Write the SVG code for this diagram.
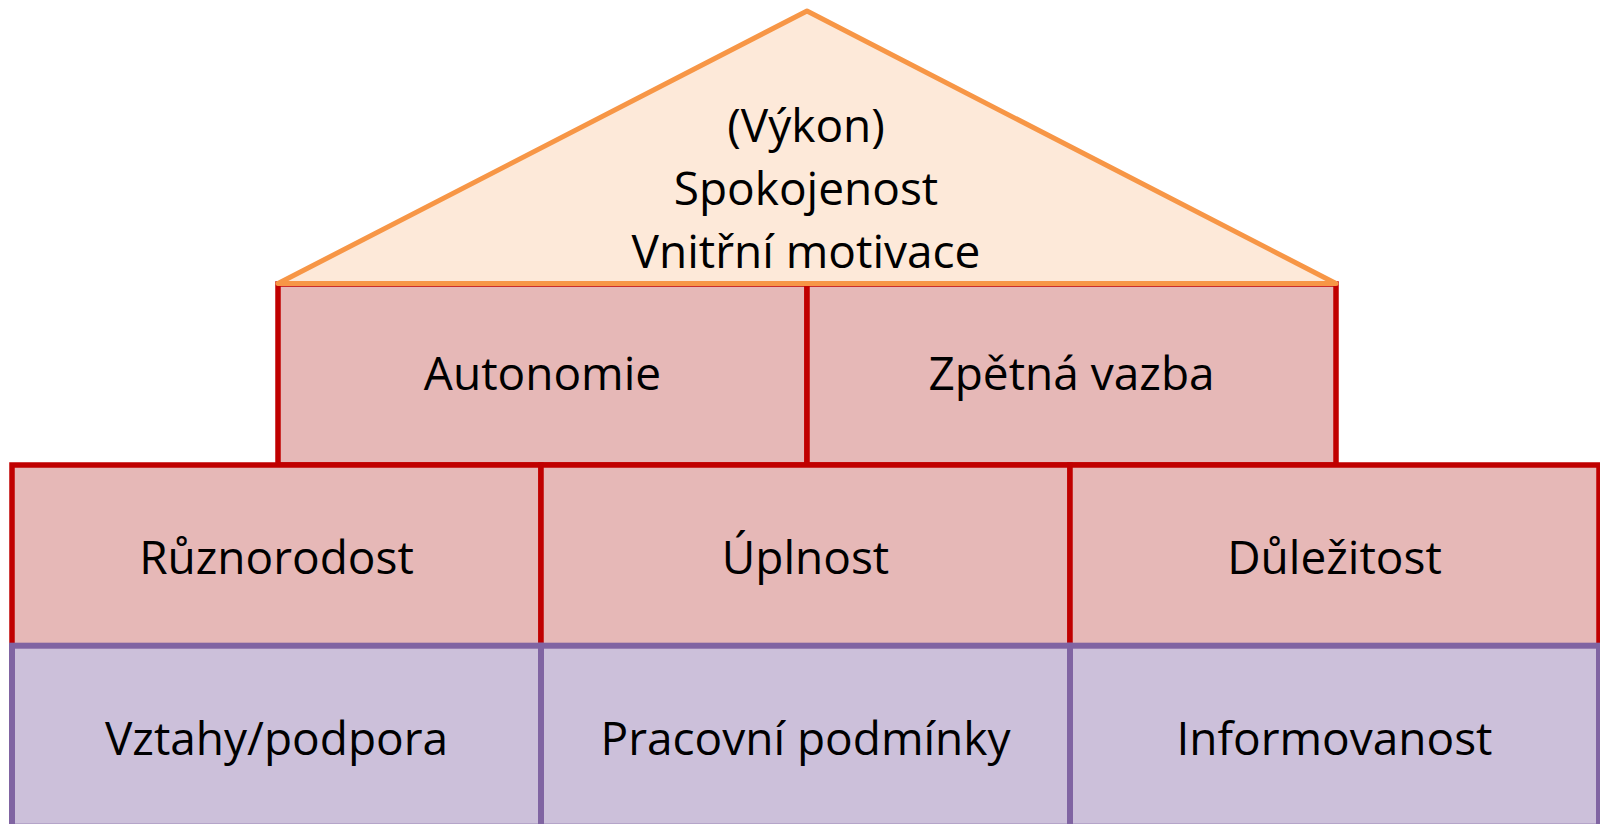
<svg xmlns="http://www.w3.org/2000/svg" width="1600" height="824" viewBox="0 0 1600 824">
<style>
.red{fill:#E6B8B7;stroke:#C00000;stroke-width:5.5}
.pur{fill:#CCC0DA;stroke:#8064A2;stroke-width:6}
.roof{fill:#FDE9D9;stroke:#F79646;stroke-width:5;stroke-linejoin:round}
text{font-family:"Open Sans","Noto Sans",sans-serif;font-size:46px;fill:#000;text-anchor:middle}
</style>
<rect width="1600" height="824" fill="#fff"/>
<g id="row1">
<g id="autonomie"><rect class="red" x="278" y="284" width="529" height="181"/><text x="542.5" y="390">Autonomie</text></g>
<g id="zpetna-vazba"><rect class="red" x="807" y="284" width="529" height="181"/><text x="1071.5" y="390">Zpětná vazba</text></g>
</g>
<g id="roof"><polygon class="roof" points="807,11 278,283.5 1336,283.5"/>
<text x="806" y="142">(Výkon)</text>
<text x="806" y="205">Spokojenost</text>
<text x="806" y="268">Vnitřní motivace</text>
</g>
<g id="row2">
<g id="ruznorodost"><rect class="red" x="12" y="465" width="529" height="181"/><text x="276.5" y="574">Různorodost</text></g>
<g id="uplnost"><rect class="red" x="541" y="465" width="529" height="181"/><text x="805.5" y="574">Úplnost</text></g>
<g id="dulezitost"><rect class="red" x="1070" y="465" width="529" height="181"/><text x="1334.5" y="574">Důležitost</text></g>
</g>
<g id="row3">
<g id="vztahy"><rect class="pur" x="12" y="645.7" width="529" height="181"/><text x="276.5" y="755">Vztahy/podpora</text></g>
<g id="pracovni"><rect class="pur" x="541" y="645.7" width="529" height="181"/><text x="805.5" y="755">Pracovní podmínky</text></g>
<g id="informovanost"><rect class="pur" x="1070" y="645.7" width="529" height="181"/><text x="1334.5" y="755">Informovanost</text></g>
</g>
<g id="connectors"></g>
</svg>
